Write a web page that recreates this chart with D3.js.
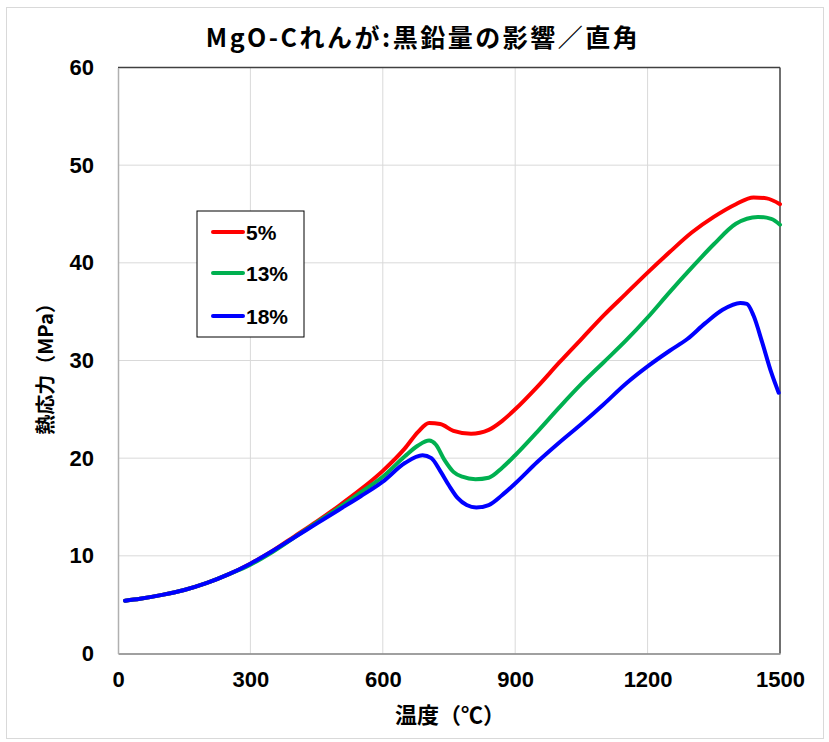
<!DOCTYPE html>
<html>
<head>
<meta charset="utf-8">
<script src="https://cdn.jsdelivr.net/npm/d3@7"></script>
<style>
  body { margin: 0; background: #fff; }
  text { font-family: "Liberation Sans", Arial, "Noto Sans CJK JP", sans-serif; font-weight: bold; fill: #000; }
  .jp { font-family: "Noto Sans CJK JP", sans-serif; }
</style>
</head>
<body>
<svg id="chart" width="829" height="742"></svg>
<script>
// Series data: [temperature °C, thermal stress MPa]
const series5 = [
  [16, 5.4], [50, 5.6], [100, 6.0], [150, 6.5], [200, 7.2], [250, 8.1], [300, 9.2],
  [350, 10.5], [400, 12.0], [450, 13.5], [500, 15.1], [550, 16.8], [600, 18.7],
  [650, 21.0], [680, 22.7], [705, 23.6], [730, 23.5], [760, 22.8], [800, 22.5],
  [840, 22.9], [870, 23.8], [900, 25.0], [950, 27.3], [1000, 29.8], [1050, 32.2],
  [1100, 34.6], [1150, 36.8], [1200, 39.0], [1250, 41.1], [1300, 43.1], [1350, 44.7],
  [1400, 46.0], [1440, 46.7], [1470, 46.6], [1500, 46.0]
];
const series13 = [
  [16, 5.4], [50, 5.6], [100, 6.0], [150, 6.5], [200, 7.2], [250, 8.1], [300, 9.1],
  [350, 10.4], [400, 11.9], [450, 13.4], [500, 14.9], [550, 16.5], [600, 18.1],
  [650, 20.2], [680, 21.3], [705, 21.8], [720, 21.4], [740, 19.8], [760, 18.6],
  [780, 18.1], [810, 17.85], [840, 18.0], [870, 19.0], [900, 20.3], [950, 22.7],
  [1000, 25.2], [1050, 27.6], [1100, 29.8], [1150, 32.0], [1200, 34.4], [1250, 37.0],
  [1300, 39.5], [1350, 41.9], [1400, 44.0], [1450, 44.7], [1480, 44.5], [1500, 43.9]
];
const series18 = [
  [16, 5.4], [50, 5.6], [100, 6.0], [150, 6.5], [200, 7.2], [250, 8.1], [300, 9.2],
  [350, 10.5], [400, 11.9], [450, 13.3], [500, 14.7], [550, 16.1], [600, 17.6],
  [650, 19.5], [690, 20.3], [710, 20.0], [730, 18.7], [750, 17.2], [770, 15.9],
  [790, 15.2], [812, 14.95], [840, 15.2], [870, 16.2], [900, 17.4], [950, 19.6],
  [1000, 21.6], [1050, 23.5], [1100, 25.5], [1150, 27.6], [1200, 29.4], [1250, 31.0],
  [1290, 32.2], [1330, 33.8], [1370, 35.2], [1410, 35.9], [1425, 35.8], [1440, 34.6],
  [1460, 31.8], [1480, 28.8], [1497, 26.7]
];
const seriesNames = ["5%", "13%", "18%"];
const seriesColors = ["#ff0000", "#00b050", "#0000ff"];
const xTicks = [0, 300, 600, 900, 1200, 1500];
const yTicks = [0, 10, 20, 30, 40, 50, 60];

const titleText = "MgO-Cれんが:黒鉛量の影響／直角";
const xTitle = "温度（℃）";
const yTitle = "熱応力（MPa）";

const svg = d3.select("#chart");
const plot = { left: 118, right: 780, top: 67.5, bottom: 653.5 };

const x = d3.scaleLinear().domain([0, 1500]).range([plot.left, plot.right]);
const y = d3.scaleLinear().domain([0, 60]).range([plot.bottom, plot.top]);

// outer chart border
svg.append("rect")
  .attr("x", 6.5).attr("y", 7.5)
  .attr("width", 817).attr("height", 731)
  .attr("fill", "#fff")
  .attr("stroke", "#d9d9d9");

// gridlines
const grid = svg.append("g");
grid.selectAll(".vg").data(xTicks.slice(1, -1)).enter().append("line")
  .attr("x1", d => x(d)).attr("x2", d => x(d))
  .attr("y1", plot.top).attr("y2", plot.bottom)
  .attr("stroke", "#d9d9d9").attr("stroke-width", 1);
grid.selectAll(".hg").data(yTicks.slice(1, -1)).enter().append("line")
  .attr("x1", plot.left).attr("x2", plot.right)
  .attr("y1", d => y(d)).attr("y2", d => y(d))
  .attr("stroke", "#d9d9d9").attr("stroke-width", 1);

// plot border
svg.append("line").attr("x1", plot.left).attr("x2", plot.right)
  .attr("y1", plot.top).attr("y2", plot.top).attr("stroke", "#404040").attr("stroke-width", 1.5);
svg.append("line").attr("x1", plot.right).attr("x2", plot.right)
  .attr("y1", plot.top).attr("y2", plot.bottom).attr("stroke", "#404040").attr("stroke-width", 1.5);

// axes
const xAxis = d3.axisBottom(x).tickValues(xTicks).tickFormat(d3.format("d")).tickSize(0).tickPadding(18);
const yAxis = d3.axisLeft(y).tickValues(yTicks).tickFormat(d3.format("d")).tickSize(0).tickPadding(24);

const gx = svg.append("g").attr("transform", `translate(0,${plot.bottom})`).call(xAxis);
const gy = svg.append("g").attr("transform", `translate(${plot.left},0)`).call(yAxis);
gx.select(".domain").attr("stroke", "#808080").attr("stroke-width", 1.5);
gy.select(".domain").attr("stroke", "#b0b0b0").attr("stroke-width", 1.5);
gx.selectAll("text").attr("font-size", 22).attr("font-family", "Liberation Sans, Arial, sans-serif").attr("font-weight", "bold").attr("fill", "#000").attr("dy", "0.71em");
gy.selectAll("text").attr("font-size", 22).attr("font-family", "Liberation Sans, Arial, sans-serif").attr("font-weight", "bold").attr("fill", "#000");

// lines
const line = d3.line()
  .x(d => x(d[0]))
  .y(d => y(d[1]))
  .curve(d3.curveMonotoneX);

const allSeries = [series5, series13, series18];
svg.append("g").selectAll("path").data(allSeries).enter().append("path")
  .attr("d", line)
  .attr("fill", "none")
  .attr("stroke", (d, i) => seriesColors[i])
  .attr("stroke-width", 4)
  .attr("stroke-linejoin", "round")
  .attr("stroke-linecap", "round");

// title
svg.append("text").attr("class", "jp")
  .attr("x", 423).attr("y", 36)
  .attr("text-anchor", "middle").attr("dominant-baseline", "central")
  .attr("font-size", 25)
  .attr("letter-spacing", 2.5)
  .text(titleText);

// axis titles
svg.append("text").attr("class", "jp")
  .attr("x", 450).attr("y", 713)
  .attr("text-anchor", "middle").attr("dominant-baseline", "central")
  .attr("font-size", 22)
  .text(xTitle);

svg.append("text").attr("class", "jp")
  .attr("transform", "translate(44,364) rotate(-90)")
  .attr("text-anchor", "middle").attr("dominant-baseline", "central")
  .attr("font-size", 20)
  .text(yTitle);

// legend
const legend = svg.append("g");
legend.append("rect")
  .attr("x", 197).attr("y", 211)
  .attr("width", 107).attr("height", 126)
  .attr("fill", "#fff").attr("stroke", "#000").attr("stroke-width", 1);
const rowY = [232, 273, 316];
const rows = legend.selectAll(".row").data(seriesNames).enter().append("g")
  .attr("transform", (d, i) => `translate(0,${rowY[i]})`);
rows.append("line")
  .attr("x1", 213).attr("x2", 243).attr("y1", 0).attr("y2", 0)
  .attr("stroke", (d, i) => seriesColors[i]).attr("stroke-width", 4)
  .attr("stroke-linecap", "round");
rows.append("text")
  .attr("x", 246).attr("y", 0)
  .attr("dominant-baseline", "central")
  .attr("font-size", 21)
  .text(d => d);
</script>
</body>
</html>
